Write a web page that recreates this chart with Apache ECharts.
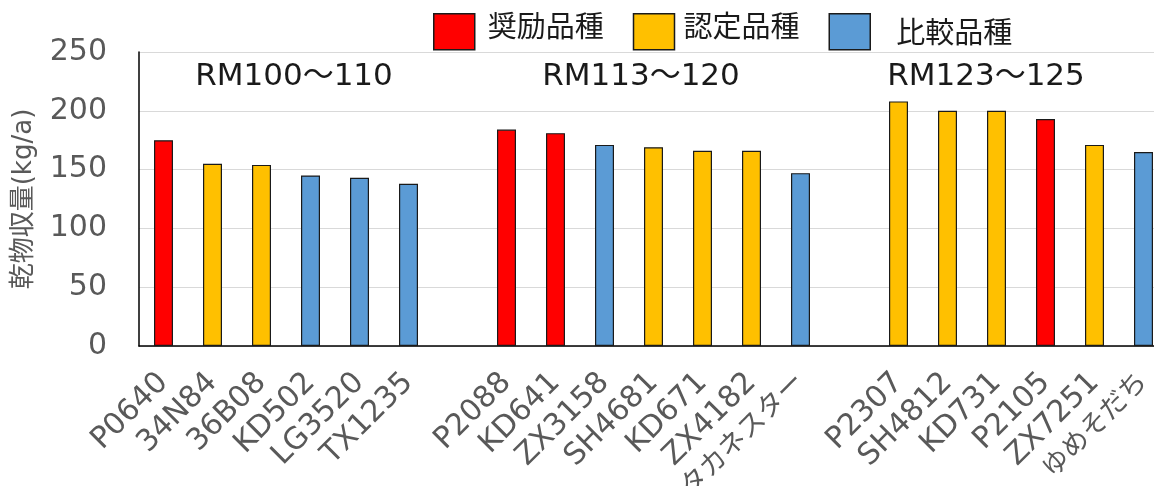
<!DOCTYPE html>
<html><head><meta charset="utf-8">
<script src="https://cdn.jsdelivr.net/npm/echarts@6/dist/echarts.min.js"></script>
<style>html,body{margin:0;padding:0;background:#fff}#c{width:1154px;height:486px}</style>
</head><body><div id="c"></div>
<script>
const categories = ['P0640','34N84','36B08','KD502','LG3520','TX1235','',
  'P2088','KD641','ZX3158','SH4681','KD671','ZX4182','タカネスター','',
  'P2307','SH4812','KD731','P2105','ZX7251','ゆめそだち'];
const yields = [175,155,154,145,143,138,null,
  184,181,171,169,166,166,147,null,
  208,200,200,193,171,165];
const types = ['奨励品種','認定品種','認定品種','比較品種','比較品種','比較品種',null,
  '奨励品種','奨励品種','比較品種','認定品種','認定品種','認定品種','比較品種',null,
  '認定品種','認定品種','認定品種','奨励品種','認定品種','比較品種'];
const seriesNames = ['奨励品種','認定品種','比較品種'];
const seriesColors = ['#FF0000','#FFC000','#5B9BD5'];
const groupLabels = ['RM100～110','RM113～120','RM123～125'];
const yTicks = [0,50,100,150,200,250];

const FONT = '"DejaVu Sans", "Noto Sans CJK JP", sans-serif';
const chart = echarts.init(document.getElementById('c'));
const groupX = [294, 641, 986];
const legendRich = ['a', 'g', 'b'];
const base = {fontSize: 29, color: '#1a1a1a', fontFamily: FONT};
chart.setOption({
  animation: false,
  textStyle: {fontFamily: FONT},
  grid: {left: 139, top: 52, width: 1029, bottom: 140, containLabel: false, outerBoundsMode: 'none'},
  legend: {
    left: 433, top: 13, padding: 0, itemWidth: 41, itemHeight: 36, itemGap: 29,
    icon: 'rect',
    itemStyle: {borderColor: '#1a1a1a', borderWidth: 1.5},
    data: seriesNames,
    formatter: function (n) { return '{' + legendRich[seriesNames.indexOf(n)] + '|' + n + '}'; },
    textStyle: Object.assign({}, base, {
      rich: {
        a: Object.assign({}, base, {padding: [0, 8, 5, 8]}),
        g: Object.assign({}, base, {padding: [0, 0, 5, 4]}),
        b: Object.assign({}, base, {padding: [7, 0, 0, 21]})
      }
    })
  },
  graphic: groupLabels.map((t, i) => ({
    type: 'text', x: groupX[i], y: 77,
    style: {text: t, font: '31px ' + FONT, fill: '#1a1a1a', align: 'center', verticalAlign: 'middle'}
  })),
  xAxis: {
    type: 'category', data: categories,
    axisLine: {lineStyle: {color: '#000', width: 1.5}},
    axisTick: {show: false},
    axisLabel: {
      interval: 0, rotate: 45, fontSize: 30, color: '#595959', margin: 32, fontFamily: FONT,
      formatter: function (v) { return /[^\x00-\x7f]/.test(v) ? '{j|' + v + '}' : v; },
      rich: {j: {fontSize: 27, color: '#595959', fontFamily: FONT}}
    }
  },
  yAxis: {
    type: 'value', min: yTicks[0], max: yTicks[yTicks.length - 1], interval: 50,
    name: '乾物収量(kg/a)', nameLocation: 'middle', nameRotate: 90, nameGap: 102,
    nameTextStyle: {fontSize: 26, color: '#595959', fontFamily: FONT},
    axisLine: {show: true, lineStyle: {color: '#000', width: 1.5}},
    axisTick: {show: false},
    axisLabel: {fontSize: 30, color: '#595959', margin: 32, fontFamily: FONT},
    splitLine: {lineStyle: {color: '#d9d9d9', width: 1.2}}
  },
  series: seriesNames.map((name, k) => ({
    name: name, type: 'bar', stack: 'all', barWidth: 19,
    itemStyle: {color: seriesColors[k], borderColor: '#1a1a1a', borderWidth: 1.2},
    data: yields.map((v, i) => types[i] === name ? v : '-')
  }))
});
</script></body></html>
